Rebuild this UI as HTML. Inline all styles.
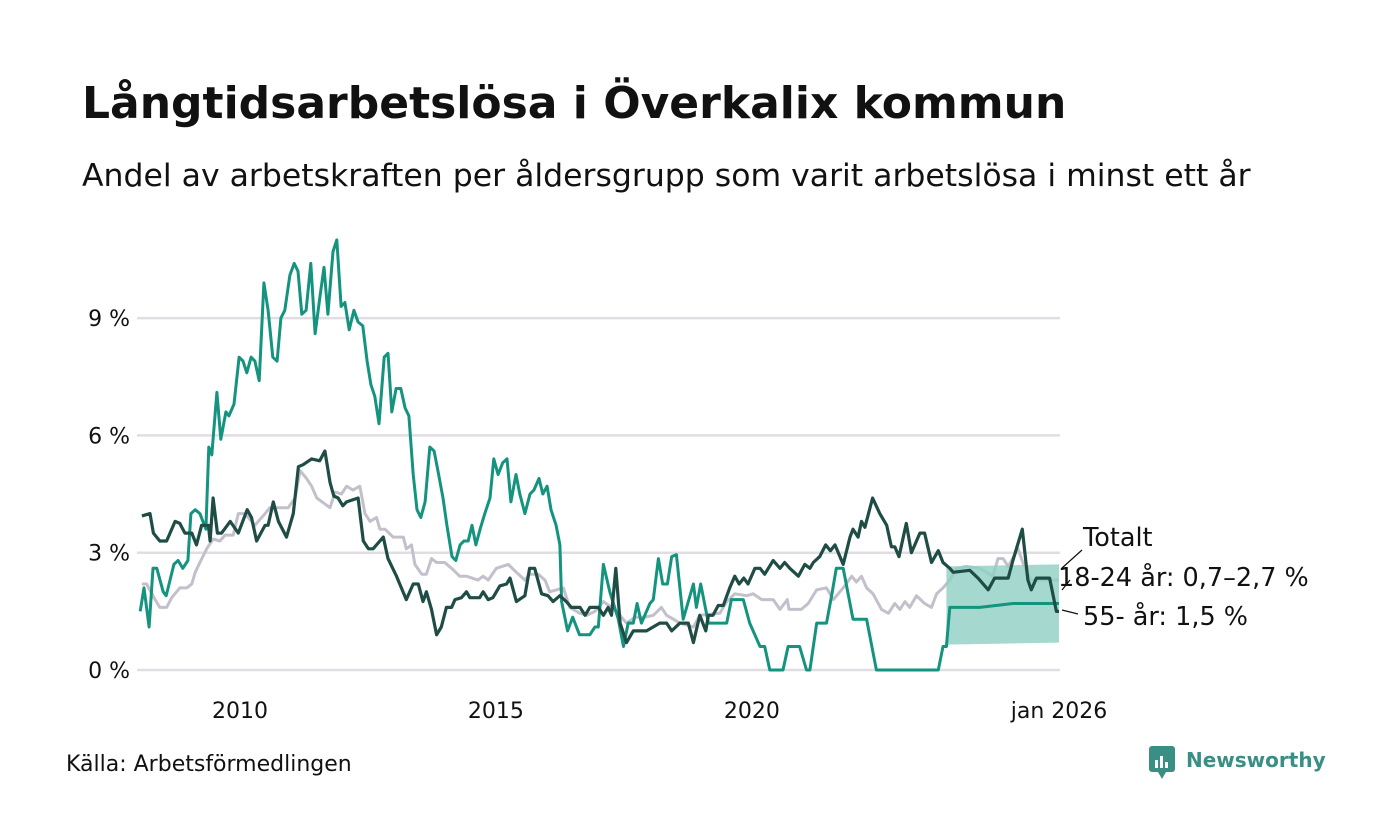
<!DOCTYPE html>
<html><head><meta charset="utf-8">
<style>
html,body{margin:0;padding:0;background:#fff;}
body{width:1400px;height:840px;position:relative;overflow:hidden;font-family:"Liberation Sans","DejaVu Sans",sans-serif;}
svg{position:absolute;left:0;top:0;}
</style></head>
<body>
<svg id="chart" width="1400" height="840">
<text x="82" y="118" font-size="44" font-weight="bold" fill="#111" font-family="DejaVu Sans, sans-serif">Långtidsarbetslösa i Överkalix kommun</text>
<text x="82" y="186" font-size="31.5" fill="#111" font-family="DejaVu Sans, sans-serif">Andel av arbetskraften per åldersgrupp som varit arbetslösa i minst ett år</text>
<g id="grid"></g><g id="yticks"></g><g id="xticks"></g><g id="series"></g>
<text x="1083" y="546" font-size="25.5" fill="#111" font-family="DejaVu Sans, sans-serif">Totalt</text>
<text x="1058" y="586" font-size="25.5" fill="#111" font-family="DejaVu Sans, sans-serif">18-24 år: 0,7–2,7 %</text>
<text x="1083" y="625" font-size="25.5" fill="#111" font-family="DejaVu Sans, sans-serif">55- år: 1,5 %</text>
<line x1="1082" y1="550" x2="1062" y2="568" stroke="#111" stroke-width="1.2"/>
<line x1="1070" y1="580" x2="1062" y2="590" stroke="#111" stroke-width="1.2"/>
<line x1="1078" y1="614" x2="1062" y2="610" stroke="#111" stroke-width="1.2"/>
<text x="66" y="771" font-size="22" fill="#111" font-family="DejaVu Sans, sans-serif">Källa: Arbetsförmedlingen</text>
<g>
<rect x="1149" y="746" width="26" height="26" rx="3" fill="#3a8f84"/>
<polygon points="1158,772 1166,772 1162,779" fill="#3a8f84"/>
<rect x="1155" y="760" width="3" height="8" fill="#fff"/><rect x="1160" y="756" width="3" height="12" fill="#fff"/><rect x="1165" y="762" width="3" height="6" fill="#fff"/>
<text x="1186" y="767" font-size="20" font-weight="bold" fill="#3a8f84" font-family="DejaVu Sans, sans-serif">Newsworthy</text>
</g>
</svg>
<script>
const yTicks=[0,3,6,9];
const yTickLabels=["0 %","3 %","6 %","9 %"];
const xTickMonths=[24,84,144,216];
const xTickLabels=["2010","2015","2020","jan 2026"];
const totMonths=[1.0,2.1,4.1,5.2,6.8,8.0,9.9,11.5,12.7,13.5,14.6,16.2,17.7,19.3,20.5,22.4,23.6,25.2,27.5,29.9,31.0,35.3,36.9,38.1,39.6,40.8,42.0,45.1,46.3,47.8,49.0,50.5,52.1,53.3,54.5,56.0,56.8,58.0,59.9,62.3,63.0,64.2,65.0,66.6,67.7,68.9,70.1,72.0,73.6,75.5,77.1,79.8,81.0,82.2,84.1,86.9,88.8,90.8,91.9,93.9,95.5,96.6,99.8,101.3,103.7,105.3,107.2,109.2,111.1,112.7,114.6,116.6,118.9,120.9,122.8,124.0,125.6,127.1,130.3,131.8,136.5,138.1,140.0,142.8,144.3,146.3,149.0,150.6,152.3,152.7,155.6,157.2,159.2,161.5,163.1,165.4,167.4,168.5,169.7,170.9,172.4,174.4,176.0,177.5,178.7,179.9,181.0,182.6,184.5,186.1,187.3,188.8,190.4,192.0,194.3,197.4,200.5,201.7,202.9,204.1,206.4,208.0,209.5,213.8,216];
const totValues=[2.2,2.2,1.8,1.6,1.6,1.85,2.1,2.1,2.2,2.5,2.75,3.1,3.35,3.3,3.45,3.45,4.0,4.0,3.7,4.0,4.15,4.15,4.4,5.1,4.9,4.7,4.4,4.15,4.55,4.5,4.7,4.6,4.7,4.0,3.8,3.9,3.6,3.6,3.4,3.4,3.1,3.2,2.7,2.45,2.45,2.85,2.75,2.75,2.6,2.4,2.4,2.3,2.4,2.3,2.6,2.7,2.5,2.3,2.45,2.45,2.3,2.0,2.1,1.6,1.45,1.4,1.5,1.75,1.6,1.45,1.2,1.35,1.35,1.4,1.6,1.4,1.3,1.2,1.1,1.4,1.45,1.75,1.95,1.9,1.95,1.8,1.8,1.55,1.8,1.55,1.55,1.7,2.05,2.1,1.8,2.1,2.4,2.25,2.4,2.1,1.95,1.55,1.45,1.7,1.55,1.75,1.6,1.9,1.7,1.6,1.95,2.1,2.3,2.6,2.65,2.6,2.4,2.85,2.85,2.65,3.1,2.6,2.3,2.3,2.3];
const youngMonths=[0.6,1.5,2.7,3.6,4.5,6.0,6.7,8.5,9.5,10.6,11.8,12.5,13.5,14.6,16.0,16.7,17.4,18.6,19.5,20.7,21.4,22.6,23.8,24.7,25.6,26.6,27.5,28.5,29.6,30.6,31.7,32.7,33.6,34.5,35.7,36.7,37.6,38.5,39.5,40.6,41.6,42.7,43.7,44.6,45.8,46.7,47.7,48.6,49.6,50.7,51.7,52.8,53.8,54.7,55.6,56.6,57.8,58.7,59.6,60.6,61.7,62.7,63.6,64.6,65.5,66.4,67.4,68.5,69.5,70.4,71.6,72.5,73.7,74.6,75.6,76.5,77.5,78.4,79.3,80.3,81.4,82.6,83.5,84.5,85.6,86.6,87.5,88.7,89.6,90.8,92.0,92.9,94.1,95.0,96.0,96.9,98.1,99.0,99.4,100.8,102.0,103.6,106.0,107.2,108.0,109.2,110.7,112.7,113.9,115.0,116.2,117.1,118.1,120.1,120.9,122.1,123.1,124.2,125.2,126.3,127.9,130.3,131.0,132.0,133.8,138.1,139.2,142.0,143.5,145.9,147.0,148.2,151.3,152.5,155.2,156.8,157.6,159.2,161.5,162.7,163.8,165.4,167.7,170.9,173.2,187.7,188.8,189.6,190.4,197.4,205.2,216];
const youngValues=[1.5,2.1,1.1,2.6,2.6,2.0,1.9,2.7,2.8,2.6,2.8,4.0,4.1,4.0,3.6,5.7,5.5,7.1,5.9,6.6,6.5,6.8,8.0,7.9,7.6,8.0,7.9,7.4,9.9,9.2,8.0,7.9,9.0,9.2,10.1,10.4,10.2,9.1,9.2,10.4,8.6,9.5,10.3,9.1,10.7,11.0,9.3,9.4,8.7,9.2,8.9,8.8,7.9,7.3,7.0,6.3,8.0,8.1,6.6,7.2,7.2,6.7,6.5,5.0,4.1,3.9,4.3,5.7,5.6,5.1,4.4,3.7,2.9,2.8,3.2,3.3,3.3,3.7,3.2,3.6,4.0,4.4,5.4,5.0,5.3,5.4,4.3,5.0,4.5,4.0,4.5,4.6,4.9,4.5,4.7,4.1,3.7,3.2,1.75,1.0,1.35,0.9,0.9,1.1,1.1,2.7,2.0,1.3,0.6,1.2,1.2,1.7,1.2,1.7,1.8,2.85,2.2,2.2,2.9,2.95,1.3,2.2,1.6,2.2,1.2,1.2,1.8,1.8,1.2,0.6,0.6,0,0,0.6,0.6,0,0,1.2,1.2,1.9,2.6,2.6,1.3,1.3,0,0,0.6,0.6,1.6,1.6,1.7,1.7];
const bandMonths=[189.6,216];
const bandLow=[0.65,0.7];
const bandHigh=[2.65,2.7];
const oldMonths=[1.0,2.9,3.7,5.2,6.8,8.8,9.9,11.1,12.7,13.8,15.0,16.6,17.0,17.7,18.7,19.7,21.7,23.6,25.7,26.7,27.9,29.9,30.6,31.8,33.0,34.9,36.5,37.7,38.8,40.8,42.7,43.9,45.1,46.0,47.0,48.1,49.0,51.7,52.9,54.1,55.2,56.4,57.6,58.7,60.7,63.0,64.6,65.8,66.9,67.7,68.9,70.1,71.2,72.4,73.6,74.4,75.9,77.1,77.9,80.2,81.0,82.2,83.3,84.9,86.5,87.3,88.8,90.8,91.9,93.1,94.7,96.2,97.4,99.0,100.5,101.7,103.7,104.9,106.0,108.0,109.2,110.3,111.1,112.1,113.1,114.6,116.2,119.3,122.4,124.0,125.2,127.1,129.1,130.3,131.8,133.2,133.8,134.9,136.1,137.3,138.8,140.0,141.0,142.1,143.1,144.7,145.9,147.0,149.0,150.6,151.7,152.9,154.9,156.4,157.6,158.4,159.9,161.3,162.4,163.5,165.4,167.0,167.7,168.9,169.7,170.5,172.3,174.0,175.6,176.7,177.5,178.5,180.2,181.4,183.4,184.5,186.1,187.7,188.8,190.4,191.2,195.1,197.0,199.4,200.9,204.1,205.2,207.4,208.7,209.5,210.7,213.8,215.4,216];
const oldValues=[3.94,4.0,3.5,3.3,3.3,3.8,3.75,3.5,3.5,3.2,3.7,3.7,3.3,4.4,3.5,3.5,3.8,3.5,4.1,3.9,3.3,3.7,3.7,4.3,3.8,3.4,4.0,5.2,5.25,5.4,5.35,5.6,4.8,4.45,4.4,4.2,4.3,4.4,3.3,3.1,3.1,3.25,3.4,2.85,2.4,1.8,2.2,2.2,1.75,2.0,1.55,0.9,1.1,1.6,1.6,1.8,1.85,2.0,1.85,1.85,2.0,1.8,1.85,2.15,2.2,2.35,1.75,1.9,2.6,2.6,1.95,1.9,1.75,1.9,1.75,1.6,1.6,1.4,1.6,1.6,1.4,1.6,1.4,2.6,1.2,0.7,1.0,1.0,1.2,1.2,1.0,1.2,1.2,0.7,1.4,1.0,1.4,1.4,1.65,1.65,2.1,2.4,2.2,2.35,2.2,2.6,2.6,2.45,2.8,2.6,2.75,2.6,2.4,2.7,2.6,2.75,2.9,3.2,3.05,3.2,2.7,3.4,3.6,3.4,3.8,3.65,4.4,4.0,3.7,3.15,3.15,2.9,3.75,3.0,3.5,3.5,2.75,3.05,2.75,2.6,2.5,2.55,2.35,2.05,2.35,2.35,2.8,3.6,2.3,2.05,2.35,2.35,1.5,1.5];

const NS="http://www.w3.org/2000/svg";
const X0=137.6,X1=1059,Y0=670,YPER=39.1;
function xScale(m){return X0+(X1-X0)*m/216;}
function yScale(v){return Y0-v*YPER;}
function mk(tag,attrs,parent){const e=document.createElementNS(NS,tag);for(const k in attrs)e.setAttribute(k,attrs[k]);parent.appendChild(e);return e;}
const grid=document.getElementById('grid'),yt=document.getElementById('yticks'),xt=document.getElementById('xticks'),ser=document.getElementById('series');
yTicks.forEach((v,i)=>{
  const l=mk('line',{x1:137,x2:1060,y1:yScale(v),y2:yScale(v),stroke:'#e0dee3','stroke-width':2.5},grid);
  
  
  const t=mk('text',{x:130,y:yScale(v)+8,'text-anchor':'end','font-size':22,fill:'#111','font-family':'DejaVu Sans, sans-serif'},yt);
  t.textContent=yTickLabels[i];
  
  
});
xTickMonths.forEach((m,i)=>{
  const t=mk('text',{x:xScale(m),y:718,'text-anchor':'middle','font-size':22,fill:'#111','font-family':'DejaVu Sans, sans-serif'},xt);
  t.textContent=xTickLabels[i];
  
  
});
function line(ms,vs,color,w,name){
  const d=ms.map((m,i)=>(i?'L':'M')+xScale(m).toFixed(1)+','+yScale(vs[i]).toFixed(1)).join(' ');
  const p=mk('path',{d:d,fill:'none',stroke:color,'stroke-width':w,'stroke-linejoin':'round'},ser);
  
  
}
line(totMonths,totValues,'#c3c0cb',3,'series-totalt');
let bd='M'+bandMonths.map((m,i)=>xScale(m)+','+yScale(bandHigh[i])).join(' L');
bd+=' L'+bandMonths.slice().reverse().map((m,i)=>xScale(m)+','+yScale(bandLow[bandLow.length-1-i])).join(' L')+' Z';
const band=mk('path',{d:bd,fill:'#8fcfc3','fill-opacity':0.8},ser);


line(youngMonths,youngValues,'#14937f',3,'series-18-24');
line(oldMonths,oldValues,'#1f4d45',3.2,'series-55');
</script>
</body></html>
